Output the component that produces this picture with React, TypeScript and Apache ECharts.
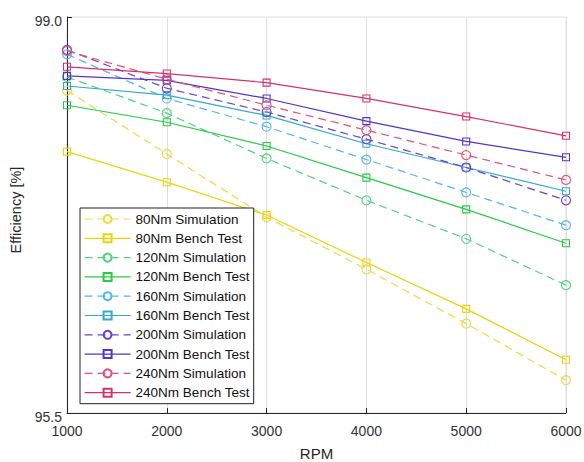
import React, { useEffect, useRef } from "react";
import * as echarts from "echarts";

const rpm = [1000, 2000, 3000, 4000, 5000, 6000];
const sim80 = [98.35, 97.79, 97.23, 96.77, 96.29, 95.79];
const bench80 = [97.81, 97.54, 97.25, 96.83, 96.42, 95.97];
const sim120 = [98.47, 98.15, 97.75, 97.38, 97.04, 96.63];
const bench120 = [98.22, 98.07, 97.86, 97.58, 97.3, 97.0];
const sim160 = [98.67, 98.28, 98.03, 97.74, 97.45, 97.16];
const bench160 = [98.39, 98.31, 98.13, 97.88, 97.67, 97.46];
const sim200 = [98.71, 98.37, 98.16, 97.92, 97.67, 97.38];
const bench200 = [98.48, 98.44, 98.28, 98.08, 97.9, 97.76];
const sim240 = [98.7, 98.45, 98.22, 98.0, 97.78, 97.56];
const bench240 = [98.56, 98.5, 98.42, 98.28, 98.12, 97.95];

const yTicks = [95.5, 99.0];

const FONT = "'Liberation Sans', Arial, Helvetica, sans-serif";

type Spec = { name: string; values: number[]; color: string; sim: boolean };

const specs: Spec[] = [
  { name: "80Nm Simulation", values: sim80, color: "#f3d645", sim: true },
  { name: "80Nm Bench Test", values: bench80, color: "#efd10a", sim: false },
  { name: "120Nm Simulation", values: sim120, color: "#4fd27e", sim: true },
  { name: "120Nm Bench Test", values: bench120, color: "#26cc44", sim: false },
  { name: "160Nm Simulation", values: sim160, color: "#55b6ea", sim: true },
  { name: "160Nm Bench Test", values: bench160, color: "#33a9d2", sim: false },
  { name: "200Nm Simulation", values: sim200, color: "#6a3fd2", sim: true },
  { name: "200Nm Bench Test", values: bench200, color: "#5533cc", sim: false },
  { name: "240Nm Simulation", values: sim240, color: "#e0507a", sim: true },
  { name: "240Nm Bench Test", values: bench240, color: "#d9306c", sim: false },
];

export default function App() {
  const ref = useRef<HTMLDivElement>(null);
  useEffect(() => {
    if (!ref.current) return;
    const chart = echarts.init(ref.current, null, { renderer: "svg" });
    const series = specs.map((s) => ({
      name: s.name,
      type: "line",
      data: rpm.map((x, i) => [x, s.values[i]]),
      symbol: s.sim ? "circle" : "rect",
      symbolSize: s.sim ? 9 : 7,
      showSymbol: true,
      lineStyle: { color: s.color, width: 1.2, type: s.sim ? [8, 5] : "solid" },
      itemStyle: { color: "rgba(255,255,255,0)", borderColor: s.color, borderWidth: 1.1 },
      emphasis: { disabled: true },
    }));
    chart.setOption({
      animation: false,
      backgroundColor: "#fff",
      textStyle: { fontFamily: FONT },
      grid: {
        left: 67,
        right: 18,
        top: 17,
        bottom: 49,
        containLabel: false,
        outerBoundsMode: "none",
        show: true,
        borderColor: "#dedede",
        borderWidth: 1,
      },
      legend: {
        orient: "vertical",
        left: 80,
        top: 208,
        itemWidth: 46,
        itemHeight: 10,
        itemGap: 5.3,
        padding: [4, 4, 4, 4],
        borderColor: "#222",
        borderWidth: 1,
        backgroundColor: "#fff",
        lineStyle: { width: 1.2 },
        textStyle: { fontSize: 13.5, color: "#111", fontFamily: FONT },
        data: specs.map((s) => s.name),
      },
      xAxis: {
        type: "value",
        min: 1000,
        max: 6000,
        interval: 1000,
        name: "RPM",
        nameLocation: "middle",
        nameGap: 33,
        nameTextStyle: { fontSize: 15, color: "#262626", fontFamily: FONT },
        axisLine: { show: true, lineStyle: { color: "#262626", width: 1 } },
        axisTick: { show: true, inside: true, length: 5, lineStyle: { color: "#262626" } },
        axisLabel: {
          fontSize: 14,
          color: "#333",
          margin: 11,
          fontFamily: FONT,
          formatter: (v: number) => String(v),
        },
        splitLine: { show: true, lineStyle: { color: "#dedede", width: 1 } },
      },
      yAxis: {
        type: "value",
        min: 95.5,
        max: 99.0,
        interval: 0.5,
        name: "Efficiency [%]",
        nameLocation: "middle",
        nameGap: 43,
        nameTextStyle: { fontSize: 14.5, color: "#262626", fontFamily: FONT, padding: [0, 0, 0, 10] },
        axisLine: { show: true, lineStyle: { color: "#262626", width: 1 } },
        axisTick: {
          show: true,
          inside: true,
          length: 5,
          customValues: yTicks,
          lineStyle: { color: "#262626" },
        },
        axisLabel: {
          fontSize: 14,
          color: "#333",
          margin: 5,
          fontFamily: FONT,
          customValues: yTicks,
          verticalAlign: "top",
          padding: [-3, 0, 0, 0],
          formatter: (v: number) => v.toFixed(1),
        },
        splitLine: { show: false },
      },
      series,
    });
    return () => chart.dispose();
  }, []);
  return (
    <div
      ref={ref}
      style={{ position: "absolute", left: 0, top: 0, width: 584, height: 462, background: "#fff" }}
    />
  );
}
